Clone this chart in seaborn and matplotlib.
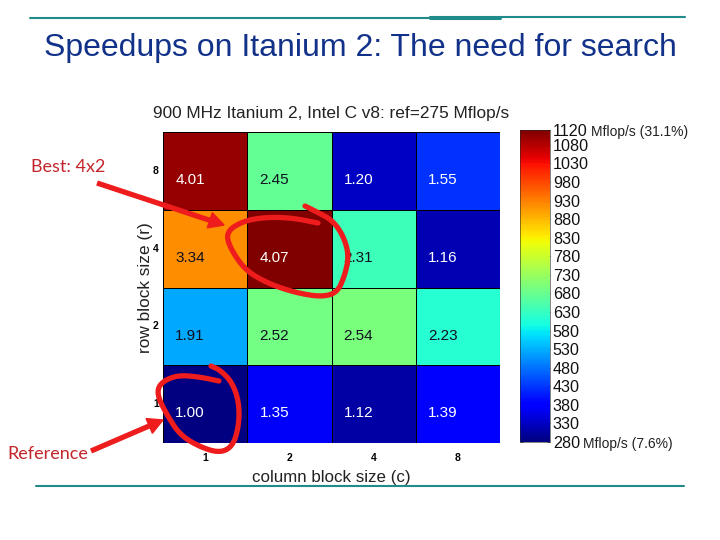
# Imports
import matplotlib
matplotlib.use('Agg')
import numpy as np
import pandas as pd
import seaborn as sns
import matplotlib.pyplot as plt
from matplotlib.cm import ScalarMappable
from matplotlib.colors import Normalize
from matplotlib.patches import Polygon

# -------- DATA --------#
row_sizes = [8, 4, 2, 1]
col_sizes = [1, 2, 4, 8]
speedups_r8 = [4.01, 2.45, 1.20, 1.55]
speedups_r4 = [3.34, 4.07, 2.31, 1.16]
speedups_r2 = [1.91, 2.52, 2.54, 2.23]
speedups_r1 = [1.00, 1.35, 1.12, 1.39]
ref_mflops = 275
cbar_ticks = [1120, 1080, 1030, 980, 930, 880, 830, 780, 730, 680, 630, 580, 530, 480, 430, 380, 330, 280]

FIG_W, FIG_H = 720, 540
TEAL = '#1f8b8b'
NAVY = '#12328a'
RED = '#ee1c1c'
NOTE_RED = '#c2252b'


def px_axes(fig, left, top, right, bottom):
    return fig.add_axes([left / FIG_W, 1 - bottom / FIG_H, (right - left) / FIG_W, (bottom - top) / FIG_H])


def draw_arrow(ax, start, tip, width=3.8, head_len=15, head_w=8):
    start, tip = np.array(start, float), np.array(tip, float)
    unit = (tip - start) / np.linalg.norm(tip - start)
    normal = np.array([-unit[1], unit[0]])
    base = tip - unit * head_len
    ax.plot([start[0], base[0]], [start[1], base[1]], color=RED, lw=width, solid_capstyle='butt')
    ax.add_patch(Polygon([tip, base + normal * head_w, base - normal * head_w], closed=True, color=RED))


def smooth_path(xs, ys, passes=3):
    # Corner cutting, so the hand drawn circles do not look polygonal
    pts = np.column_stack([xs, ys]).astype(float)
    for _ in range(passes):
        q = 0.75 * pts[:-1] + 0.25 * pts[1:]
        r = 0.25 * pts[:-1] + 0.75 * pts[1:]
        mid = np.empty((q.shape[0] * 2, 2))
        mid[0::2] = q
        mid[1::2] = r
        pts = np.vstack([pts[0], mid, pts[-1]])
    return pts[:, 0], pts[:, 1]


# -------- PLOT --------#
sns.set_theme(style='white')
plt.rcParams['font.family'] = ['Liberation Sans', 'DejaVu Sans']

speedups = pd.DataFrame([speedups_r8, speedups_r4, speedups_r2, speedups_r1], index=row_sizes, columns=col_sizes)
mflops = speedups * ref_mflops

fig = plt.figure(figsize=(FIG_W / 100, FIG_H / 100), dpi=100, facecolor='white')
ax = px_axes(fig, 163, 132, 500, 443)
cax = px_axes(fig, 520, 130, 550, 442)

sns.heatmap(mflops, ax=ax, cmap='jet', vmin=280, vmax=1120, cbar=False,
            linewidths=0.5, linecolor='black')

# Speedup labels sit left of centre and a little low in each cell
for i, row in enumerate(row_sizes):
    for j, col in enumerate(col_sizes):
        value = speedups.loc[row, col]
        color = 'white' if value < 1.6 or value > 3.5 else '#101020'
        ax.text(j + 0.32, i + 0.62, f'{value:.2f}', color=color, fontsize=11, ha='center', va='center')

ax.set_title('900 MHz Itanium 2, Intel C v8: ref=275 Mflop/s', fontsize=12.4, color='#222222', pad=10, x=0.5)
ax.set_xlabel('column block size (c)', fontsize=12.2, color='#222222', labelpad=5)
ax.set_ylabel('row block size (r)', fontsize=12.4, color='#222222', labelpad=0)
ax.tick_params(axis='x', length=0, labelsize=7.5, labelcolor='black', pad=7)
ax.tick_params(axis='y', length=0, labelsize=7.5, labelcolor='black', pad=3)
ax.set_xticklabels(col_sizes, fontweight='bold')
ax.set_yticklabels(row_sizes, rotation=0, fontweight='bold')
for spine in ax.spines.values():
    spine.set_visible(False)

# Colour bar on the Mflop/s scale
cbar = fig.colorbar(ScalarMappable(norm=Normalize(280, 1120), cmap='jet'), cax=cax)
cbar.set_ticks(cbar_ticks)
cbar.set_ticklabels([str(t) for t in cbar_ticks])
cax.tick_params(axis='y', left=True, right=True, direction='in', length=2.5, width=0.6,
                labelsize=11.6, labelcolor='#111111', pad=2, color='#333333')
cbar.outline.set_linewidth(0.4)

# Slide decorations in pixel coordinates
overlay = fig.add_axes([0, 0, 1, 1], zorder=5)
overlay.set_xlim(0, FIG_W)
overlay.set_ylim(FIG_H, 0)
overlay.axis('off')
overlay.patch.set_alpha(0)

overlay.plot([30, 430], [18, 18], color=TEAL, lw=1.5)
overlay.plot([430, 685], [17, 17], color=TEAL, lw=1.5)
overlay.plot([430, 500], [17.5, 17.5], color=TEAL, lw=2.2)
overlay.plot([36, 684], [486, 486], color=TEAL, lw=1.5)

overlay.text(360, 48, 'Speedups on Itanium 2: The need for search', color=NAVY, fontsize=23,
             ha='center', va='center')
overlay.text(591, 132, 'Mflop/s (31.1%)', color='#222222', fontsize=10, va='center')
overlay.text(583, 444, 'Mflop/s (7.6%)', color='#222222', fontsize=10, va='center')
overlay.text(31, 167, 'Best: 4x2', color=NOTE_RED, fontsize=13, va='center', family='Lato')
overlay.text(7, 454, 'Reference', color=NOTE_RED, fontsize=13, va='center', family='Lato')

# Hand drawn circles around the best and the reference cell
best_x = [318, 293, 267, 243, 226, 230, 245, 267, 293, 320, 337, 345, 349, 343, 332, 317, 305]
best_y = [223, 218, 217, 221, 232, 248, 270, 283, 292, 297, 293, 275, 255, 235, 220, 212, 206]
ref_x = [219, 200, 177, 160, 157, 167, 180, 200, 220, 233, 239, 239, 232, 220, 211]
ref_y = [381, 377, 375, 383, 395, 415, 435, 447, 453, 446, 425, 402, 382, 370, 366]
overlay.plot(*smooth_path(best_x, best_y), color=RED, lw=3.8, solid_capstyle='round')
overlay.plot(*smooth_path(ref_x, ref_y), color=RED, lw=3.8, solid_capstyle='round')
draw_arrow(overlay, (97, 183), (224, 225))
draw_arrow(overlay, (91, 451), (163, 420))

fig.savefig('out.png', dpi=100)
